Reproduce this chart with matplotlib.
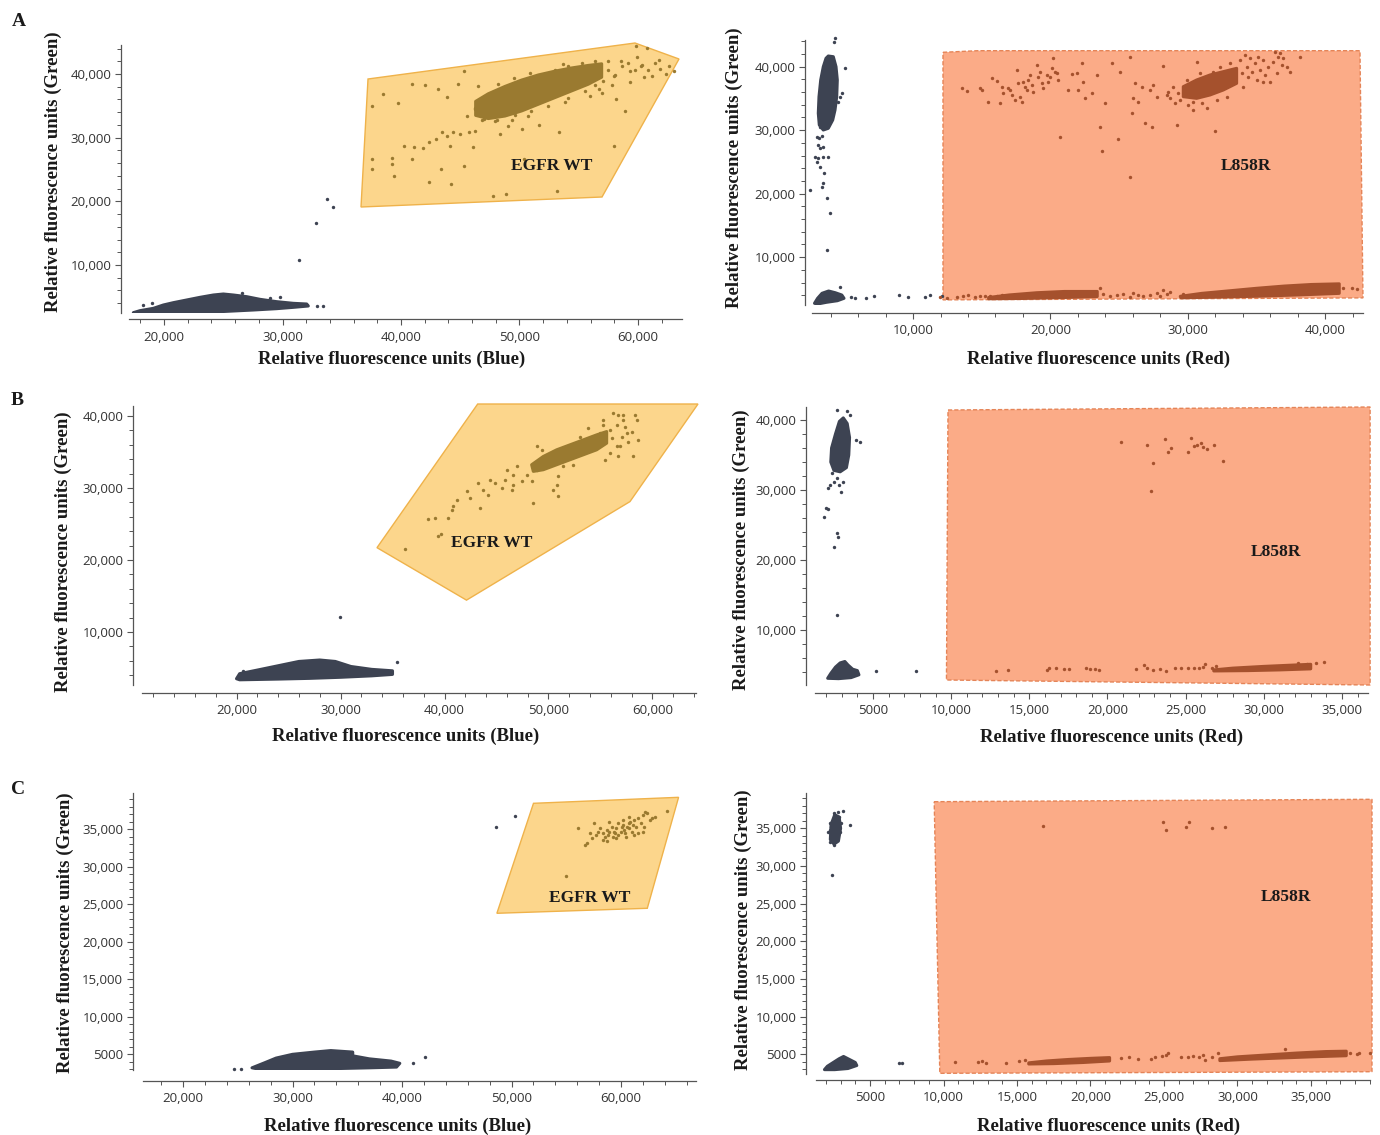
import numpy as np
import matplotlib
matplotlib.use('Agg')
import matplotlib.pyplot as plt
from matplotlib.patches import Polygon
from matplotlib.ticker import MultipleLocator, FixedLocator, FuncFormatter

W, H = 1380, 1135

GREY = '#3d4352'
GOLD = '#9a7a30'
BROWN = '#a5512d'
YELLOW_FILL = '#fcd68c'
YELLOW_EDGE = '#efb24a'
ORANGE_FILL = '#fbab87'
ORANGE_EDGE = '#e58457'

# ---------------- panel A, EGFR WT (Blue vs Green) ----------------
A_L_GATE = [(37216, 39215), (59748, 44869), (63461, 42356), (56963, 20681), (36625, 19111)]
A_L_NEG_BLOB = [(17412, 2516), (17975, 2830), (19100, 3196), (19944, 3720), (20788, 4086), (21913, 4505),
                (23038, 4924), (24163, 5290), (25007, 5447), (25851, 5290), (26976, 5029), (28102, 4610),
                (29508, 4243), (30915, 3981), (32040, 3877), (32180, 3563), (30915, 3353), (29508, 3144),
                (27539, 2934), (24726, 2673), (21913, 2568), (19100, 2411), (17694, 2411)]
A_L_NEG_PTS = [(18256, 3720), (18960, 3981), (26554, 5657), (28946, 4767), (29789, 5029), (32884, 3563),
               (33390, 3563), (31400, 10790), (32827, 16600), (33755, 20368), (34260, 19110)]
A_L_POS_BLOB = [(46300, 35700), (47370, 36900), (48777, 38050), (50183, 39050), (51590, 39850), (52996, 40450),
                (54403, 40950), (55809, 41350), (56934, 41600), (56934, 39500), (55809, 38400), (54403, 37350),
                (52996, 36300), (51590, 35250), (50183, 34200), (48777, 33400), (47370, 33000), (46300, 33500)]
A_L_POS_PTS = [(37544, 34921), (38473, 36858), (39774, 35392), (45350, 40524), (40964, 38429), (42005, 38272),
               (43120, 37644), (43864, 36335), (44793, 38430), (46466, 38063), (37544, 26648), (37544, 25077),
               (39217, 26753), (39217, 25863), (39403, 24030), (40890, 26648), (42377, 22983), (43417, 25077),
               (44235, 22721), (45350, 25601), (40220, 28743), (41076, 28481), (41819, 28324), (42377, 29267),
               (42934, 29790), (43491, 30837), (43864, 30314), (44420, 30942), (44978, 30575), (45721, 30837),
               (46279, 31099), (44123, 28743), (46093, 28481), (48323, 30575), (49067, 31884), (50182, 31361),
               (51669, 31989), (53341, 30837), (50368, 26648), (57988, 28743), (58917, 34240), (47766, 20889),
               (48881, 21150), (53156, 21569), (59846, 44451), (60775, 44032), (61890, 40785), (62633, 41309),
               (61147, 39738), (60218, 41309), (59289, 40524), (58545, 42094), (57988, 39738), (57059, 38953),
               (63005, 40524), (58174, 36073), (56687, 37644), (55943, 36597), (59289, 38691), (46279, 34502),
               (45536, 33455), (47022, 32931), (47766, 33979), (46837, 35549), (46245, 34661), (46807, 32828),
               (47933, 32566), (49339, 32828), (50746, 33351), (52433, 34922), (54121, 36231), (55528, 37278),
               (56372, 38325), (57497, 40681), (58059, 39896), (58622, 41204), (59185, 41728), (59747, 40681),
               (60310, 41466), (60872, 40681), (61435, 41728), (57497, 41990), (56372, 41990), (55247, 41728),
               (54121, 41204), (52996, 40681), (51871, 39896), (48200, 38400), (49500, 39300), (50900, 40100),
               (53700, 41500), (57800, 38200), (57000, 37000), (53800, 35600), (51000, 34200), (49600, 33500),
               (48100, 32700), (60500, 39500), (61800, 42200), (62400, 40000), (59900, 42600)]

# ---------------- panel A, L858R (Red vs Green) ----------------
A_R_GATE = [(12182, 42268), (14727, 42520), (42509, 42520), (42727, 3590), (12182, 3276)]
A_R_NEG_TOP_BLOB = [(3840, 41685), (4203, 41575), (4400, 40000), (4494, 37905), (4451, 35275), (4327, 33180),
                    (4160, 31605), (3840, 30298), (3476, 30030), (3185, 30818), (3112, 32660), (3163, 35275),
                    (3287, 37905), (3476, 40000), (3672, 41323)]
A_R_NEG_BOT_BLOB = [(2836, 2735), (3061, 3523), (3382, 4310), (3862, 4670), (4342, 4405), (4822, 4040),
                    (4982, 3523), (4502, 3145), (3702, 2893), (3061, 2625)]
A_R_NEG_PTS = [(4327, 44473), (4276, 43937), (5054, 39748), (4815, 35810), (4691, 35275), (4570, 34487),
               (3963, 33180), (3236, 30550), (3432, 30455), (3040, 28975), (3185, 28723), (3360, 29085),
               (3112, 27668), (3236, 27148), (3476, 27400), (2873, 25825), (3112, 25573), (3476, 25825),
               (3840, 25730), (2996, 25038), (3236, 24250), (3549, 23210), (3476, 21635), (3360, 21100),
               (2509, 20580), (3767, 19273), (3963, 16910), (3724, 11130), (4662, 5255), (5462, 3775),
               (5782, 3618), (6582, 3523), (7156, 3885), (8982, 4040), (9622, 3680), (10902, 3680),
               (11222, 4040), (12080, 3885)]
A_R_BAND1 = [(15500, 3650), (17000, 4050), (19000, 4400), (21000, 4600), (23400, 4600), (23400, 3800),
             (21000, 3650), (18000, 3500), (15500, 3450)]
A_R_BAND2 = [(29500, 3850), (31000, 4300), (33000, 4700), (35000, 5100), (37000, 5450), (39000, 5700),
             (41000, 5800), (41000, 4300), (38000, 4050), (35000, 3850), (32000, 3700), (29500, 3600)]
A_R_POS_BLOB = [(29658, 36855), (30628, 37905), (31598, 38693), (32567, 39218), (33537, 39743),
                (33537, 37380), (32567, 36330), (31598, 35543), (30628, 35018), (29658, 35280)]
A_R_POS_PTS = [(13539, 36698), (13902, 36225), (14872, 36698), (14993, 36330), (15478, 34388), (15720, 38168),
               (16084, 37748), (16326, 34335), (16448, 36855), (16569, 35805), (16932, 36593), (17054, 36330),
               (17175, 35543), (17417, 34755), (17538, 39480), (17660, 37380), (17781, 35280), (17902, 34493),
               (18023, 37643), (18144, 36855), (18266, 36330), (18387, 37905), (18508, 38693), (18629, 37118),
               (18750, 36068), (18993, 40268), (19114, 38430), (19235, 39218), (19356, 37380), (19478, 36593),
               (19720, 38693), (19841, 37643), (19962, 38430), (20084, 39743), (20205, 41318), (20326, 39218),
               (20447, 38955), (20568, 37905), (21296, 36330), (21538, 38798), (21902, 38955), (22023, 36330),
               (22265, 40530), (22386, 37538), (22508, 35018), (22992, 35805), (23356, 38693), (23598, 30555),
               (23720, 26723), (23962, 34230), (24447, 40530), (24932, 28613), (25053, 39218), (25780, 41580),
               (25780, 22680), (25901, 32655), (26022, 35018), (26144, 37380), (26386, 34493), (26628, 36855),
               (26871, 31185), (27234, 36330), (27356, 30450), (27477, 37118), (27720, 35280), (28204, 40110),
               (28446, 35543), (29174, 30818), (30628, 40793), (31961, 29925), (38142, 41580), (20690, 28980),
               (28568, 36068), (28689, 35018), (28931, 36855), (29052, 34230), (29295, 35805), (29416, 34755),
               (29901, 36330), (30022, 33968), (30264, 37380), (30386, 34493), (30870, 38955), (30992, 34230),
               (31355, 33443), (31840, 39218), (32082, 34755), (32325, 40005), (32810, 35280), (33052, 40530),
               (33294, 38430), (33779, 41055), (33900, 38955), (34022, 36855), (34264, 40005), (34385, 38430),
               (34506, 41318), (34628, 39218), (34870, 40530), (34991, 37905), (35234, 39480), (35476, 41055),
               (35597, 38693), (35840, 40005), (35961, 37643), (36203, 40793), (36446, 38955), (36567, 41580),
               (36809, 40268), (36930, 41318), (37173, 40005), (37415, 39218), (36688, 42105), (36325, 42368),
               (35112, 41580), (34143, 41843), (35476, 37643), (29901, 37905), (30386, 33180), (31234, 37485),
               (11963, 3781), (12448, 3518), (13175, 3781), (13660, 3938), (14024, 4043), (14508, 3781),
               (14872, 3938), (15236, 3886), (15599, 3833), (16084, 3938), (16448, 4043), (23841, 4148),
               (24326, 3938), (24810, 4043), (25295, 4148), (25780, 3781), (26022, 4306), (26386, 4043),
               (26750, 3938), (27234, 4043), (27719, 4306), (27962, 3938), (28204, 4831), (28446, 4201),
               (28689, 4463), (29416, 3938), (29658, 4148), (41294, 5093), (41900, 5198), (42263, 4988),
               (23598, 5093)]

# ---------------- panel B, EGFR WT ----------------
B_L_GATE = [(43191, 41660), (64375, 41660), (57836, 28106), (42115, 14415), (33509, 21703)]
B_L_NEG_BLOB = [(20000, 3500), (20300, 4200), (22000, 4700), (24000, 5300), (26000, 5900), (28000, 6100),
                (29500, 5900), (31000, 5200), (33000, 4800), (35000, 4600), (35000, 4100), (33000, 3900),
                (30000, 3700), (27000, 3550), (24000, 3450), (20300, 3350)]
B_L_NEG_PTS = [(29952, 12105), (35433, 5840), (34375, 4637), (20625, 4595), (33800, 4300)]
B_L_POS_BLOB = [(48380, 33224), (49502, 34376), (50784, 35298), (52066, 35990), (53348, 36681), (54630, 37373),
                (55592, 37834), (55592, 36220), (54630, 35298), (53348, 34607), (52066, 33915), (50784, 33224),
                (49502, 32532), (48541, 32302)]
B_L_POS_PTS = [(36201, 21560), (39406, 23312), (39631, 23543), (38445, 25710), (39086, 25848), (40368, 25848),
               (40688, 26999), (40849, 27461), (41169, 28383), (42131, 29535), (42451, 28613), (43252, 30688),
               (43413, 27230), (43733, 29766), (44214, 29075), (44374, 31149), (44855, 30688), (45496, 29997),
               (45816, 31149), (45977, 32532), (46457, 29766), (46618, 30458), (46938, 32993), (46618, 31841),
               (47419, 30919), (47900, 31841), (48380, 30919), (48541, 27922), (48861, 32532), (49342, 35298),
               (50464, 29766), (50784, 30458), (50944, 31610), (50944, 28844), (51425, 32993), (52066, 34837),
               (53028, 37142), (53829, 38294), (54951, 37603), (55271, 39447), (55431, 33915), (55912, 38064),
               (56233, 40369), (56553, 38756), (56713, 40138), (56874, 35759), (57034, 37142), (57194, 39447),
               (57354, 38525), (57515, 37603), (57675, 36451), (57995, 37834), (58316, 40138), (58476, 39447),
               (58636, 36681), (58156, 34376), (56713, 34376), (55912, 34837), (56072, 36912), (56553, 35759),
               (55271, 38756), (57194, 40138), (48861, 35759), (50784, 34146), (52386, 33224)]

# ---------------- panel B, L858R ----------------
B_R_GATE = [(9798, 41429), (36800, 41857), (36800, 2143), (9700, 2857)]
B_R_NEG_TOP_BLOB = [(2500, 32800), (2300, 34000), (2350, 36000), (2600, 38000), (2850, 39800), (3100, 40300),
                    (3350, 39500), (3500, 37500), (3450, 35000), (3300, 33200), (2900, 32600)]
B_R_NEG_BOT_BLOB = [(2100, 3100), (2300, 3800), (2600, 4700), (2900, 5300), (3200, 5500), (3400, 5000),
                    (3700, 4400), (4000, 4200), (4100, 3600), (3600, 3200), (2800, 3050)]
B_R_NEG_PTS = [(2672, 41429), (3363, 41286), (3503, 40714), (3912, 37143), (4143, 36900), (2397, 32386),
               (2672, 31671), (2812, 30714), (2947, 29757), (2531, 31186), (2256, 30714), (2115, 30243),
               (3087, 31186), (1981, 27386), (2115, 27286), (2672, 23814), (2755, 23329), (2531, 21900),
               (2672, 12143), (1840, 26186), (5166, 4143), (7720, 4143)]
B_R_BAND = [(26800, 4300), (28000, 4550), (30000, 4800), (32000, 5000), (33000, 5100), (33000, 4450),
            (31000, 4300), (29000, 4200), (26800, 4150)]
B_R_POS_PTS = [(12879, 4142), (13628, 4285), (16125, 4285), (16264, 4523), (16680, 4618), (17235, 4380),
               (17512, 4428), (18622, 4523), (18899, 4428), (19176, 4380), (19454, 4285), (21812, 4428),
               (22367, 5000), (22505, 4523), (22921, 4285), (23337, 4428), (23754, 4142), (24308, 4523),
               (24724, 4618), (25140, 4523), (25557, 4618), (25834, 4523), (26111, 4761), (26250, 5094),
               (33879, 5475), (33324, 5237), (32770, 5094), (32215, 5237), (26666, 4618), (26944, 4904),
               (20841, 36905), (22505, 36428), (22921, 33809), (22783, 29857), (23671, 37286), (23892, 35381),
               (24032, 35952), (25140, 35476), (25335, 37381), (25557, 36286), (25696, 36428), (25973, 36667),
               (26111, 36190), (26388, 35809), (26804, 36428), (27359, 34143)]

# ---------------- panel C, EGFR WT ----------------
C_L_GATE = [(52008, 38466), (65258, 39266), (62400, 24469), (48665, 23803)]
C_L_NEG_BLOB = [(26300, 3200), (27500, 3900), (28500, 4500), (30000, 5000), (32000, 5300), (33500, 5500),
                (35500, 5300), (35500, 4800), (37000, 4400), (39000, 4100), (39800, 3800), (39500, 3300),
                (37000, 3200), (34000, 3100), (30000, 3000), (27000, 3000)]
C_L_NEG_PTS = [(24692, 3008), (25304, 3008), (41000, 3896), (42101, 4607), (48538, 35267), (50291, 36773)]
C_L_POS_PTS = [(54975, 28775), (56085, 35130), (56697, 32908), (56901, 33130), (57308, 33797), (57512, 35796),
               (57716, 34241), (57920, 34685), (58124, 35130), (58328, 34463), (58531, 34019), (58735, 34907),
               (58817, 34241), (58939, 34685), (59143, 35352), (59225, 34019), (59347, 34685), (59469, 34463),
               (59551, 35130), (59755, 35796), (59755, 34241), (59958, 34685), (60081, 35352), (60162, 36241),
               (60284, 34907), (60366, 34463), (60570, 35352), (60692, 35796), (60774, 35130), (60855, 36018),
               (60977, 34685), (61100, 35574), (61181, 36241), (61385, 35352), (61508, 34463), (61589, 36463),
               (61793, 35796), (61997, 36907), (62119, 35352), (62201, 37351), (62405, 37129), (62608, 36241),
               (62812, 36463), (63138, 36685), (64239, 37440), (61997, 34685), (58328, 33575), (58939, 36018),
               (59551, 33797), (60162, 35574), (60774, 36685), (57186, 34463), (58735, 33486), (60488, 34019),
               (61181, 34241)]

# ---------------- panel C, L858R ----------------
C_R_GATE = [(9367, 38532), (39150, 38851), (39150, 2676), (9749, 2464)]
C_R_NEG_TOP_BLOB = [(2300, 33500), (2350, 35500), (2600, 36800), (2900, 36500), (3000, 35000), (2850, 33300),
                    (2550, 32900)]
C_R_NEG_BOT_BLOB = [(1900, 2950), (2100, 3400), (2500, 3900), (2900, 4400), (3200, 4700), (3600, 4300),
                    (4000, 3900), (4100, 3500), (3500, 3100), (2600, 2950)]
C_R_NEG_PTS = [(2580, 36987), (2816, 37208), (3170, 37341), (2875, 36544), (2285, 35659), (2433, 35880),
               (2639, 36102), (2816, 35437), (2521, 34995), (2728, 34773), (2875, 34995), (2285, 34773),
               (2433, 34331), (2580, 34109), (2816, 34331), (2433, 33667), (2639, 33445), (2285, 33224),
               (2521, 32781), (2728, 33888), (2934, 34552), (3023, 35659), (3613, 35437), (2433, 28797),
               (2167, 34552), (2344, 33888), (2698, 35216), (2551, 35437), (2374, 35128), (2757, 35747),
               (7005, 3871), (7153, 3783)]
C_R_BAND1 = [(15800, 3850), (17000, 4100), (18500, 4300), (20000, 4450), (21300, 4550), (21300, 4100),
             (19500, 3900), (17500, 3750), (15800, 3700)]
C_R_BAND2 = [(28800, 4400), (30000, 4650), (32000, 4900), (34000, 5150), (36000, 5350), (37400, 5400),
             (37400, 4800), (35000, 4650), (33000, 4500), (31000, 4350), (28800, 4150)]
C_R_POS_PTS = [(10781, 3996), (12315, 3996), (12610, 4129), (12905, 3784), (14233, 3872), (15118, 4129),
               (15560, 4217), (22050, 4448), (22640, 4581), (23230, 4315), (24115, 4404), (24410, 4581),
               (24853, 4758), (25148, 4890), (25295, 5112), (26180, 4669), (26623, 4581), (27006, 4758),
               (27360, 4581), (27655, 4890), (27803, 4227), (28245, 4669), (28688, 5112), (37685, 5112),
               (38128, 5023), (38275, 5112), (39013, 5201), (33260, 5644), (16740, 35305), (24941, 35880),
               (25148, 34773), (26475, 35216), (26711, 35880), (28245, 34995), (29130, 35128)]

SERIF = 'Liberation Serif'
TICKFONT = 'Open Sans'

fig = plt.figure(figsize=(W / 100, H / 100), dpi=100)


def fmt(v, pos):
    v = int(round(v))
    return f'{v:,}' if v >= 10000 else f'{v}'


def make_axes(rect, xlim, ylim, xmaj, xmin, ymaj, ymin, xoff, yoff):
    x0, y0, x1, y1 = rect
    ax = fig.add_axes([x0 / W, 1 - y1 / H, (x1 - x0) / W, (y1 - y0) / H])
    ax.set_xlim(*xlim)
    ax.set_ylim(*ylim)
    ax.patch.set_alpha(0)
    ax.spines['top'].set_visible(False)
    ax.spines['right'].set_visible(False)
    ax.spines['bottom'].set_position(('outward', xoff * 0.72))
    ax.spines['left'].set_position(('outward', yoff * 0.72))
    for s in ('bottom', 'left'):
        ax.spines[s].set_color('#555555')
        ax.spines[s].set_linewidth(0.9)
    ax.xaxis.set_major_locator(FixedLocator(xmaj))
    ax.yaxis.set_major_locator(FixedLocator(ymaj))
    ax.xaxis.set_minor_locator(MultipleLocator(xmin))
    ax.yaxis.set_minor_locator(MultipleLocator(ymin))
    ax.xaxis.set_major_formatter(FuncFormatter(fmt))
    ax.yaxis.set_major_formatter(FuncFormatter(fmt))
    ax.tick_params(which='major', length=4, width=0.8, color='#555555', labelsize=9.5,
                   labelcolor='#333333', labelfontfamily=TICKFONT)
    ax.tick_params(which='minor', length=3, width=0.7, color='#555555')
    ax.tick_params(axis='x', which='major', pad=4)
    ax.tick_params(axis='y', which='major', pad=3)
    return ax


def gate(ax, pts, fc, ec, ls='-'):
    ax.add_patch(Polygon(pts, closed=True, facecolor=fc, edgecolor=ec, lw=1.0, ls=ls,
                         zorder=1, clip_on=False))


def blob(ax, pts, color):
    # dense cluster core drawn as its outline
    a = np.array(pts)
    ax.fill(a[:, 0], a[:, 1], facecolor=color, edgecolor=color, lw=2.2, joinstyle='round', zorder=2)


def dots(ax, pts, color):
    a = np.array(pts)
    ax.scatter(a[:, 0], a[:, 1], s=6, c=color, marker='o', lw=0, zorder=3, clip_on=False)


def label(ax, x, y, s):
    ax.text(x, y, s, ha='center', va='center', fontsize=12.5, fontweight='bold',
            family=SERIF, color='#1a1a1a', zorder=5)


def axis_titles(xpos, ypos, xtext, ytext):
    fig.text(xpos[0] / W, 1 - xpos[1] / H, xtext, ha='center', va='center', fontsize=13.5,
             fontweight='bold', family=SERIF, color='#1a1a1a')
    fig.text(ypos[0] / W, 1 - ypos[1] / H, ytext, ha='center', va='center', fontsize=13.5,
             fontweight='bold', family=SERIF, color='#1a1a1a', rotation=90)


G_LABEL = 'Relative fluorescence units (Green)'
B_LABEL = 'Relative fluorescence units (Blue)'
R_LABEL = 'Relative fluorescence units (Red)'

TICKS_10K_X = [20000, 30000, 40000, 50000, 60000]
TICKS_10K_Y = [10000, 20000, 30000, 40000]
TICKS_5K = [5000, 10000, 15000, 20000, 25000, 30000, 35000]

# A left
ax = make_axes((129, 45, 682, 313.4), (17046, 63714), (2400, 44555),
               TICKS_10K_X, 2000, TICKS_10K_Y, 2000, 6, 8)
gate(ax, A_L_GATE, YELLOW_FILL, YELLOW_EDGE)
blob(ax, A_L_NEG_BLOB, GREY)
dots(ax, A_L_NEG_PTS, GREY)
blob(ax, A_L_POS_BLOB, GOLD)
dots(ax, A_L_POS_PTS, GOLD)
label(ax, 52743, 25555, 'EGFR WT')
axis_titles((392, 359), (53, 172), B_LABEL, G_LABEL)

# A right
ax = make_axes((812, 40, 1363, 305), (2654, 42729), (2468, 44205),
               [10000, 20000, 30000, 40000], 2000, TICKS_10K_Y, 2000, 8, 7)
gate(ax, A_R_GATE, ORANGE_FILL, ORANGE_EDGE, ls=(0, (3, 1.5)))
blob(ax, A_R_NEG_TOP_BLOB, GREY)
blob(ax, A_R_NEG_BOT_BLOB, GREY)
dots(ax, A_R_NEG_PTS, GREY)
blob(ax, A_R_BAND1, BROWN)
blob(ax, A_R_BAND2, BROWN)
blob(ax, A_R_POS_BLOB, BROWN)
dots(ax, A_R_POS_PTS, BROWN)
label(ax, 34219, 24360, 'L858R')
axis_titles((1099, 359), (734, 168), R_LABEL, G_LABEL)

# B left
ax = make_axes((142, 405.7, 696, 685), (10913, 64183), (2628, 41425),
               TICKS_10K_X, 2000, TICKS_10K_Y, 2000, 8, 9)
gate(ax, B_L_GATE, YELLOW_FILL, YELLOW_EDGE)
blob(ax, B_L_NEG_BLOB, GREY)
dots(ax, B_L_NEG_PTS, GREY)
blob(ax, B_L_POS_BLOB, GOLD)
dots(ax, B_L_POS_PTS, GOLD)
label(ax, 44567, 22298, 'EGFR WT')
axis_titles((406, 736), (63, 552), B_LABEL, G_LABEL)

# B right
ax = make_axes((815, 406.7, 1368, 685), (1290, 36665), (2143, 41900),
               TICKS_5K, 1000, TICKS_10K_Y, 2000, 8, 9)
gate(ax, B_R_GATE, ORANGE_FILL, ORANGE_EDGE, ls=(0, (3, 1.5)))
blob(ax, B_R_NEG_TOP_BLOB, GREY)
blob(ax, B_R_NEG_BOT_BLOB, GREY)
dots(ax, B_R_NEG_PTS, GREY)
blob(ax, B_R_BAND, BROWN)
dots(ax, B_R_POS_PTS, BROWN)
label(ax, 30780, 21143, 'L858R')
axis_titles((1112, 737), (741, 550), R_LABEL, G_LABEL)

# C left
ax = make_axes((143, 793.3, 696, 1070), (16347, 66848), (2910, 39800),
               TICKS_10K_X, 2000, TICKS_5K, 1000, 11, 10)
gate(ax, C_L_GATE, YELLOW_FILL, YELLOW_EDGE)
blob(ax, C_L_NEG_BLOB, GREY)
dots(ax, C_L_NEG_PTS, GREY)
dots(ax, C_L_POS_PTS, GOLD)
label(ax, 57167, 25809, 'EGFR WT')
axis_titles((398, 1126), (65, 933), B_LABEL, G_LABEL)

# C right
ax = make_axes((816, 793.3, 1370, 1074), (1326, 39015), (2371, 39648),
               TICKS_5K, 1000, TICKS_5K, 1000, 6, 10)
gate(ax, C_R_GATE, ORANGE_FILL, ORANGE_EDGE, ls=(0, (3, 1.5)))
blob(ax, C_R_NEG_TOP_BLOB, GREY)
blob(ax, C_R_NEG_BOT_BLOB, GREY)
dots(ax, C_R_NEG_PTS, GREY)
blob(ax, C_R_BAND1, BROWN)
blob(ax, C_R_BAND2, BROWN)
dots(ax, C_R_POS_PTS, BROWN)
label(ax, 33300, 25877, 'L858R')
axis_titles((1109, 1126), (743, 930), R_LABEL, G_LABEL)

# panel letters
for letter, (px, py) in zip('ABC', [(19, 21), (17, 401), (18, 789)]):
    fig.text(px / W, 1 - py / H, letter, ha='center', va='center', fontsize=14,
             fontweight='bold', family=SERIF, color='#1a1a1a')

fig.savefig('out.png', dpi=100, facecolor='white')
